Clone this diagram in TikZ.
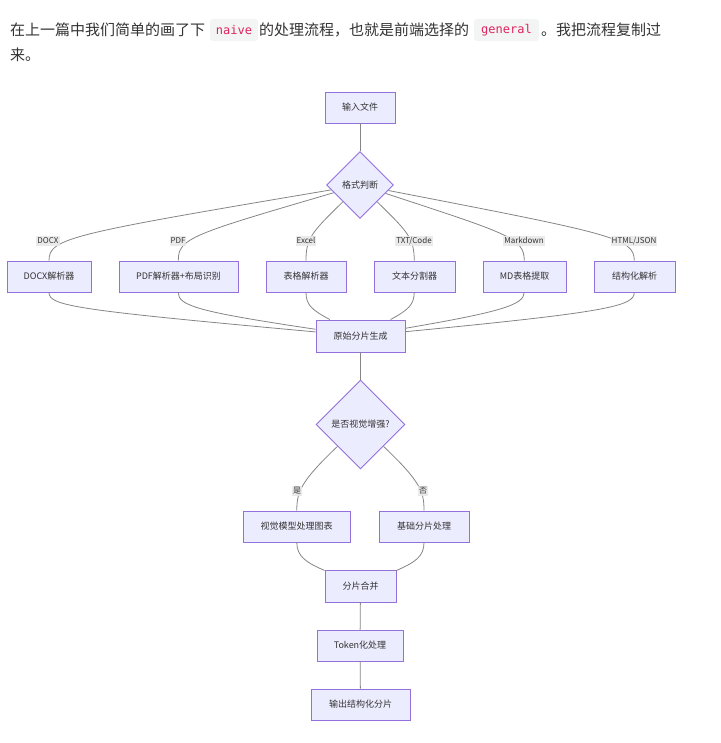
\documentclass[tikz,border=0pt]{standalone}
\usepackage{fontspec}
\setmainfont{Noto Sans CJK SC}
\newfontfamily\codefont{DejaVu Sans Mono}
\usetikzlibrary{shapes.geometric}
\definecolor{nodefill}{HTML}{ECECFF}
\definecolor{nodeline}{HTML}{9370DB}
\definecolor{edgecol}{HTML}{858585}
\definecolor{labelbg}{HTML}{E8E8E8}
\definecolor{txtcol}{HTML}{333333}
\definecolor{codecol}{HTML}{E0245E}
\definecolor{codebg}{HTML}{F3F4F4}
\tikzset{
  box/.style={draw=nodeline, fill=nodefill, line width=0.9pt, minimum height=31pt,
    inner sep=2pt, font=\fontsize{9}{11}\selectfont, text=txtcol},
  dia/.style={diamond, draw=nodeline, fill=nodefill, line width=0.9pt, aspect=1,
    inner sep=1pt, font=\fontsize{9}{11}\selectfont, text=txtcol},
  edge/.style={draw=edgecol, line width=0.8pt},
  elabel/.style={fill=labelbg, fill opacity=0.9, text opacity=1, inner sep=1pt,
    text height=6.5pt, text depth=1.5pt,
    font=\fontsize{8}{9}\selectfont, text=txtcol},
  para/.style={anchor=west, inner sep=0pt, font=\fontsize{15}{18}\selectfont, text=txtcol},
  code/.style={fill=codebg, rounded corners=3pt, inner xsep=0pt, inner ysep=0pt,
    minimum height=22pt, font=\codefont\fontsize{12}{14}\selectfont, text=codecol}
}
\begin{document}
\begin{tikzpicture}[x=1pt, y=-1pt]
\useasboundingbox (0,0) rectangle (720,743);
% header text
\node[para] (t1) at (10,30) {在上一篇中我们简单的画了下};
\node[code, minimum width=48pt] (c1) at (234,30) {naive};
\node[para] (t2) at (259,30) {的处理流程，也就是前端选择的};
\node[code, minimum width=65pt] (c2) at (506.5,30) {general};
\node[para] (t3) at (541,30) {。我把流程复制过};
\node[para] (t4) at (10,55) {来。};

% nodes
\node[box, minimum width=70pt] (in) at (360,107.5) {输入文件};
\node[dia, minimum width=67pt, minimum height=67pt] (fmt) at (360,185) {格式判断};
\node[box, minimum width=84pt] (docx) at (49,276.5) {DOCX解析器};
\node[box, minimum width=119pt] (pdf) at (178.5,276.5) {PDF解析器+布局识别};
\node[box, minimum width=80pt] (tab) at (306,276.5) {表格解析器};
\node[box, minimum width=81pt] (txt) at (414.5,276.5) {文本分割器};
\node[box, minimum width=83pt] (md) at (524.5,276.5) {MD表格提取};
\node[box, minimum width=81pt] (st) at (634.5,276.5) {结构化解析};
\node[box, minimum width=89pt, minimum height=32pt] (raw) at (360.5,336) {原始分片生成};
\node[dia, minimum width=89pt, minimum height=89pt] (viz) at (360.5,424.5) {是否视觉增强?};
\node[box, minimum width=107pt] (vm) at (296.5,526.5) {视觉模型处理图表};
\node[box, minimum width=90pt] (base) at (424,526.5) {基础分片处理};
\node[box, minimum width=71pt, minimum height=32pt] (merge) at (360.5,586) {分片合并};
\node[box, minimum width=86pt] (tok) at (360,645.5) {Token化处理};
\node[box, minimum width=99pt] (out) at (360.5,704.5) {输出结构化分片};

% edges
\draw[edge] (in) -- (fmt);
\draw[edge] (fmt) .. controls (70,234) and (49,238) .. (docx);
\draw[edge] (fmt) .. controls (193,234) and (178,238) .. (pdf);
\draw[edge] (fmt) .. controls (312,232) and (306,238) .. (tab);
\draw[edge] (fmt) .. controls (408,232) and (414,238) .. (txt);
\draw[edge] (fmt) .. controls (509,234) and (524,238) .. (md);
\draw[edge] (fmt) .. controls (613,234) and (634,238) .. (st);

\draw[edge] (docx) .. controls (49,306) and (75,310) .. (raw);
\draw[edge] (pdf) .. controls (178,306) and (200,312) .. (raw);
\draw[edge] (tab) .. controls (306,305) and (312,310) .. (raw);
\draw[edge] (txt) .. controls (414,305) and (408,310) .. (raw);
\draw[edge] (md) .. controls (524,305) and (500,312) .. (raw);
\draw[edge] (st) .. controls (634,306) and (610,312) .. (raw);

\draw[edge] (raw) -- (viz);
\draw[edge] (viz) .. controls (300,482) and (297,492) .. (vm);
\draw[edge] (viz) .. controls (421,482) and (424,492) .. (base);
\draw[edge] (vm) .. controls (297,556) and (305,562) .. (merge);
\draw[edge] (base) .. controls (424,556) and (416,562) .. (merge);
\draw[edge] (merge) -- (tok);
\draw[edge] (tok) -- (out);

% edge labels
\node[elabel] (l1) at (48,241) {DOCX};
\node[elabel] (l2) at (178,241) {PDF};
\node[elabel] (l3) at (306,241) {Excel};
\node[elabel] (l4) at (414,241) {TXT/Code};
\node[elabel] (l5) at (524,241) {Markdown};
\node[elabel] (l6) at (634,241) {HTML/JSON};
\node[elabel] (l7) at (297,491) {是};
\node[elabel] (l8) at (423,491) {否};
\end{tikzpicture}
\end{document}
